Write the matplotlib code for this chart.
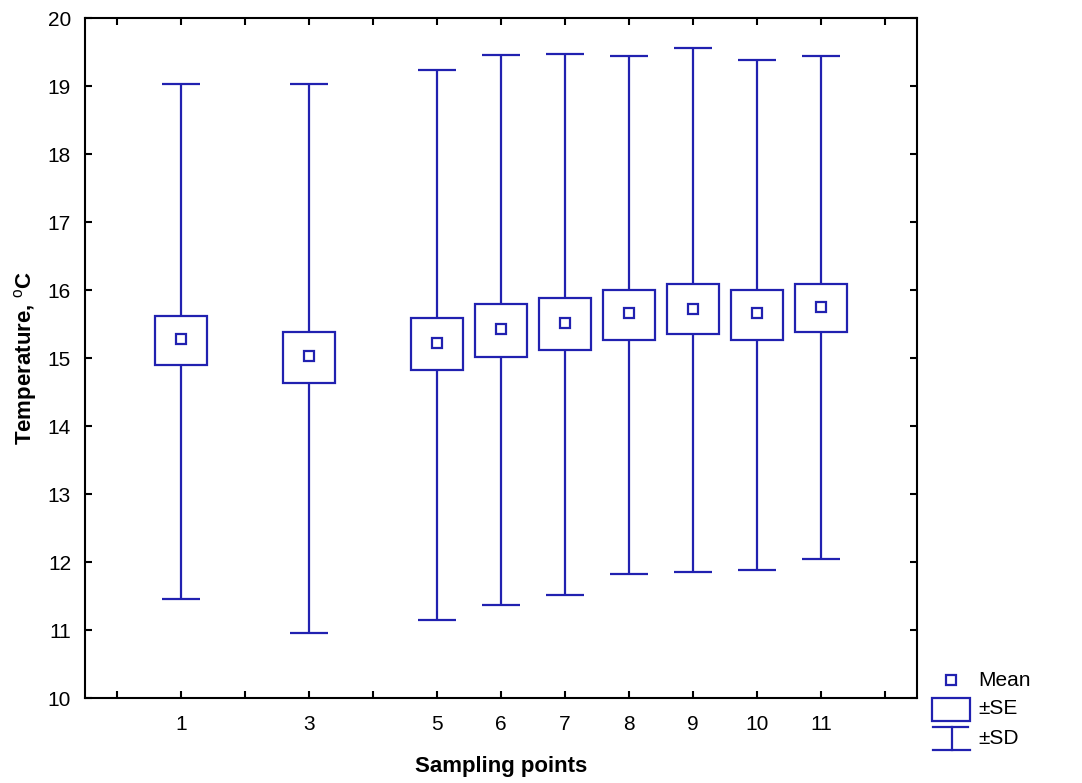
import matplotlib.pyplot as plt
from matplotlib.patches import Rectangle

plt.rcParams['font.family'] = ['Liberation Sans', 'DejaVu Sans']
plt.rcParams['mathtext.fontset'] = 'custom'
plt.rcParams['mathtext.rm'] = 'Liberation Sans'

# data
points = [1, 3, 5, 6, 7, 8, 9, 10, 11]
mean = [15.28, 15.03, 15.22, 15.43, 15.51, 15.66, 15.72, 15.66, 15.75]
se_low = [14.90, 14.63, 14.82, 15.01, 15.12, 15.26, 15.35, 15.26, 15.38]
se_high = [15.62, 15.38, 15.59, 15.79, 15.88, 16.00, 16.09, 16.00, 16.09]
sd_low = [11.46, 10.96, 11.14, 11.37, 11.52, 11.82, 11.85, 11.88, 12.05]
sd_high = [19.03, 19.03, 19.24, 19.45, 19.47, 19.44, 19.56, 19.38, 19.44]

blue = '#2121b0'
lw = 1.6
box_w = 0.81
cap_w = 0.59

fig = plt.figure(figsize=(10.82, 7.83), dpi=100)
ax = fig.add_axes([85 / 1082, 1 - 698 / 783, (917 - 85) / 1082, (698 - 18) / 783])

for x, m, sl, sh, dl, dh in zip(points, mean, se_low, se_high, sd_low, sd_high):
    # whiskers from box to caps
    ax.vlines(x, dl, sl, color=blue, lw=lw)
    ax.vlines(x, sh, dh, color=blue, lw=lw)
    ax.hlines([dl, dh], x - cap_w / 2, x + cap_w / 2, color=blue, lw=lw)
    ax.add_patch(Rectangle((x - box_w / 2, sl), box_w, sh - sl,
                           fill=False, edgecolor=blue, lw=lw))

ax.plot(points, mean, 's', ms=7, mfc='none', mec=blue, mew=lw, ls='none')

ax.set_xlim(-0.5, 12.5)
ax.set_ylim(10, 20)
ax.set_xticks(range(13))
ax.set_xticklabels([str(i) if i in points else '' for i in range(13)])
ax.set_yticks(range(10, 21))
ax.tick_params(direction='in', length=5, width=1.5, top=True, right=True,
               labelsize=15)
ax.tick_params(axis='x', pad=12)
ax.tick_params(axis='y', pad=10)
for s in ax.spines.values():
    s.set_linewidth(1.5)

ax.set_xlabel('Sampling points', fontsize=16, fontweight='bold', labelpad=16)
ax.set_ylabel(r'Temperature, $^{\rm o}$C', fontsize=16, fontweight='bold', labelpad=6)

# legend drawn in pixel units in a small side axes
lg = fig.add_axes([925 / 1082, 1 - 760 / 783, 120 / 1082, 95 / 783])
lg.set_xlim(925, 1045)
lg.set_ylim(760, 665)
lg.axis('off')
lg.plot([951], [680], 's', ms=7, mfc='none', mec=blue, mew=lw)
lg.add_patch(Rectangle((932, 698), 38, 23, fill=False, edgecolor=blue, lw=lw))
lg.plot([933, 968], [727, 727], color=blue, lw=lw)
lg.plot([933, 970], [750, 750], color=blue, lw=lw)
lg.plot([952, 952], [727, 750], color=blue, lw=lw)
lg.text(978, 680, 'Mean', fontsize=15, va='center')
lg.text(978, 709, '±SE', fontsize=15, va='center')
lg.text(978, 738, '±SD', fontsize=15, va='center')

fig.savefig('out.png', dpi=100)
